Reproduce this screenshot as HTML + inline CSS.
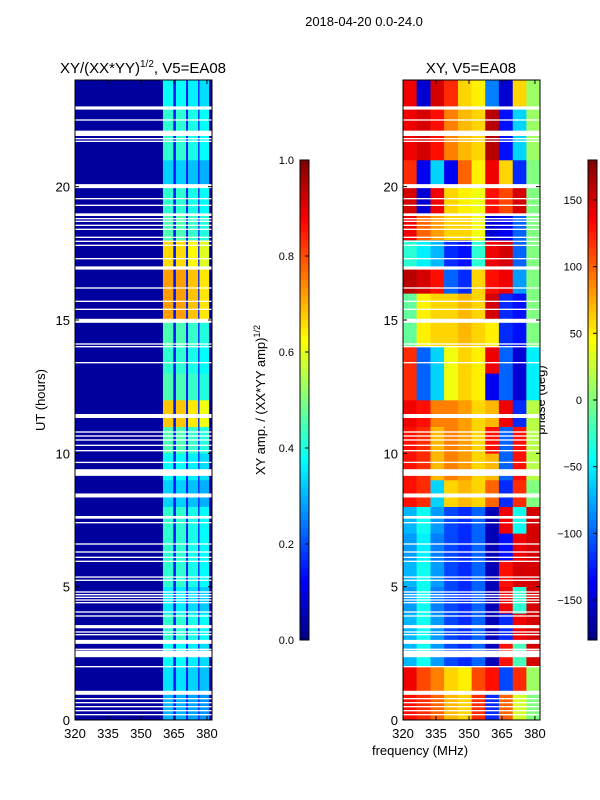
<!DOCTYPE html>
<html><head><meta charset="utf-8">
<style>
body{margin:0;background:#fff;}
svg{display:block;font-family:"Liberation Sans","DejaVu Sans",sans-serif;}
</style></head>
<body>
<svg id="fig" width="600" height="800" viewBox="0 0 600 800">
<rect width="600" height="800" fill="#fff"/>
<text x="364" y="26" font-size="13" text-anchor="middle">2018-04-20 0.0-24.0</text>
<text x="143" y="73" font-size="15" text-anchor="middle">XY/(XX*YY)<tspan font-size="10" dy="-6">1/2</tspan><tspan dy="6">, V5=EA08</tspan></text>
<text x="471" y="73" font-size="15" text-anchor="middle">XY, V5=EA08</text>
<text x="420" y="755" font-size="13" text-anchor="middle">frequency (MHz)</text>
<text x="45" y="400" font-size="13" text-anchor="middle" transform="rotate(-90 45 400)">UT (hours)</text>
<text x="265" y="400" font-size="13" text-anchor="middle" transform="rotate(-90 265 400)">XY amp. / (XX*YY amp)<tspan font-size="9" dy="-5">1/2</tspan></text>
<text x="545" y="400" font-size="13" text-anchor="middle" transform="rotate(-90 545 400)">phase (deg)</text>
<g id="left"></g>
<g id="right"></g>
<g id="axes"></g>
</svg>
<script>
// ---- data ----
const hours = [0,1,2,3,4,5,6,7,8,9,10,11,12,13,14,15,16,17,18,19,20,21,22,23];
const ampBand = [0.30,0.35,0.38,0.42,0.36,0.42,0.42,0.42,0.33,0.38,0.45,0.68,0.45,0.42,0.45,0.72,0.72,0.66,0.45,0.42,0.33,0.42,0.42,0.38];
const ampSegEdges = [320,360,364.7,365.9,370.5,371.4,376,376.6,381,382.3];
const ampSegFactor = [0.12,1.0,0.3,1.0,0.3,0.95,0.3,0.9,0.15];
const ampSegIsBand = [0,1,0,1,0,1,0,1,0];
const ampBackground = 0.03;
const ampDark = 0.15;
const phaseEdges = [320,326.2,332.5,338.7,345,351.2,357.4,363.6,369.9,376.1,382.3];
const phaseRows = [
 [130,120,100,70,60,120,-120,100,30,0],
 [140,110,90,60,50,110,130,-110,120,10],
 [-70,-40,-80,-110,-120,-100,-160,130,-20,150],
 [-70,-40,-80,-110,-120,-100,-160,-120,140,150],
 [-80,-40,-90,-110,-120,-100,-160,140,-30,150],
 [-70,-40,-80,-110,-120,-100,-160,130,150,150],
 [-80,-50,-90,-110,-120,-100,-160,-130,140,150],
 [-70,-40,-80,-110,-120,-100,-160,140,-40,150],
 [130,120,-60,60,70,60,100,-120,120,0],
 [130,120,70,90,80,60,70,-100,130,20],
 [130,120,70,90,80,60,130,-100,130,20],
 [140,130,90,90,80,60,70,140,-120,20],
 [120,-100,-60,40,60,50,-140,-100,-150,-50],
 [120,-100,-60,40,60,50,140,-100,-150,-50],
 [-10,50,60,60,70,60,50,-120,-130,0],
 [-10,50,60,60,70,60,150,-120,-130,0],
 [160,150,130,-100,-120,60,130,140,-80,0],
 [-30,-50,-70,-120,-130,-30,140,150,-100,0],
 [140,100,80,60,60,40,-150,-140,-100,0],
 [150,-150,140,60,50,40,130,110,150,0],
 [120,-140,-60,-140,100,50,140,60,-120,0],
 [140,150,130,90,70,60,160,-130,-60,10],
 [140,150,130,90,70,60,160,-130,-60,10],
 [140,-150,150,120,60,50,-90,-150,60,10]
];
const gapCenters = [0.2,0.35,0.5,0.65,0.8,1.02,2.0,2.48,2.65,2.93,3.2,3.3,3.5,3.9,4.05,4.4,4.5,4.6,4.7,4.8,5.24,5.36,5.95,6.1,6.3,6.6,7.4,7.6,8.42,9.28,9.66,10.1,10.3,10.5,10.65,10.8,11.4,13.4,14.0,14.1,14.97,15.4,15.7,16.2,16.95,17.3,17.8,17.95,18.1,18.4,18.55,18.7,18.8,18.95,19.3,19.55,20.02,21.7,21.8,22.0,22.5,22.95];
const gapWidths = [0.05,0.05,0.05,0.05,0.05,0.15,0.05,0.25,0.05,0.15,0.05,0.05,0.12,0.05,0.05,0.05,0.05,0.05,0.05,0.05,0.05,0.05,0.05,0.05,0.05,0.05,0.05,0.1,0.15,0.25,0.05,0.05,0.05,0.05,0.05,0.05,0.15,0.05,0.05,0.05,0.15,0.05,0.05,0.05,0.12,0.05,0.05,0.05,0.05,0.05,0.05,0.05,0.05,0.1,0.05,0.05,0.15,0.05,0.05,0.2,0.05,0.12];
const xTicks = [320,335,350,365,380];
const yTicks = [0,5,10,15,20];
const ampTicks = [0.0,0.2,0.4,0.6,0.8,1.0];
const phaseTicks = [-150,-100,-50,0,50,100,150];

// ---- scales ----
const NS='http://www.w3.org/2000/svg';
const panels = {left:{x0:75,x1:212},right:{x0:403,x1:540}};
const Y0=720,Y1=80;
function xs(p,f){return panels[p].x0+(f-320)/(382.3-320)*(panels[p].x1-panels[p].x0);}
function ys(h){return Y0+(h/24)*(Y1-Y0);}
function jet(v){v=Math.max(0,Math.min(1,v));
 const r=Math.max(0,Math.min(1,1.5-Math.abs(4*v-3)));
 const g=Math.max(0,Math.min(1,1.5-Math.abs(4*v-2)));
 const b=Math.max(0,Math.min(1,1.5-Math.abs(4*v-1)));
 return 'rgb('+Math.round(r*255)+','+Math.round(g*255)+','+Math.round(b*255)+')';}
function mk(tag,attrs,parent){const e=document.createElementNS(NS,tag);for(const k in attrs)e.setAttribute(k,attrs[k]);parent.appendChild(e);return e;}

const L=document.getElementById('left'),R=document.getElementById('right'),A=document.getElementById('axes');
hours.forEach((h,i)=>{
 const yT=ys(h+1),yB=ys(h);
 for(let s=0;s<ampSegIsBand.length;s++){
  let v = ampSegIsBand[s]? ampBand[i]*ampSegFactor[s] : (s===0||s===ampSegIsBand.length-1? ampBackground: ampDark);
  const x=xs('left',ampSegEdges[s]),w=xs('left',ampSegEdges[s+1])-x;
  const r=mk('rect',{x:x,y:yT,width:w+0.3,height:yB-yT+0.3,fill:jet(v)},L);
  
  
 }
 for(let c=0;c<phaseRows[i].length;c++){
  const v=(phaseRows[i][c]+180)/360;
  const x=xs('right',phaseEdges[c]),w=xs('right',phaseEdges[c+1])-x;
  const r=mk('rect',{x:x,y:yT,width:w+0.3,height:yB-yT+0.3,fill:jet(v)},R);
  
  
 }
});
['left','right'].forEach(p=>{
 const G=p==='left'?L:R;
 gapCenters.forEach((c,i)=>{
  const yT=ys(c+gapWidths[i]/2),yB=ys(c-gapWidths[i]/2);
  const r=mk('rect',{x:panels[p].x0,y:yT,width:panels[p].x1-panels[p].x0,height:Math.max(1.2,yB-yT),fill:'#fff'},G);
  
  
 });
 const f=mk('rect',{x:panels[p].x0,y:Y1,width:panels[p].x1-panels[p].x0,height:Y0-Y1,fill:'none',stroke:'#000','stroke-width':1},A);
 
 
 xTicks.forEach(t=>{const x=xs(p,t);
  mk('line',{x1:x,y1:Y0,x2:x,y2:Y0-4,stroke:'#000'},A);
  mk('line',{x1:x,y1:Y1,x2:x,y2:Y1+4,stroke:'#000'},A);
  const tx=mk('text',{x:x,y:Y0+18,'font-size':13,'text-anchor':'middle'},A);tx.textContent=t;
  
  
 });
 yTicks.forEach(t=>{const y=ys(t);
  mk('line',{x1:panels[p].x0,y1:y,x2:panels[p].x0+4,y2:y,stroke:'#000'},A);
  mk('line',{x1:panels[p].x1,y1:y,x2:panels[p].x1-4,y2:y,stroke:'#000'},A);
  const tx=mk('text',{x:panels[p].x0-5,y:y+5,'font-size':13,'text-anchor':'end'},A);tx.textContent=t;
  
  
 });
});
function colorbar(x,ticks,lo,hi,fmt,name){
 const top=160,bot=640,n=120;
 for(let i=0;i<n;i++){
  const r=mk('rect',{x:x,y:bot-(i+1)*(bot-top)/n,width:9,height:(bot-top)/n+0.5,fill:jet((i+0.5)/n)},A);
  
  
 }
 const f=mk('rect',{x:x,y:top,width:9,height:bot-top,fill:'none',stroke:'#000'},A);
 
 
 ticks.forEach(t=>{const y=bot-(t-lo)/(hi-lo)*(bot-top);
  mk('line',{x1:x+5,y1:y,x2:x+9,y2:y,stroke:'#000'},A);
  const tx=mk('text',{x:x-6,y:y+4,'font-size':11,'text-anchor':'end'},A);tx.textContent=fmt(t);
  
  
 });
}
colorbar(300,ampTicks,0,1,t=>t.toFixed(1),'amp-colorbar');
colorbar(588,phaseTicks,-180,180,t=>t<0?'\u2212'+(-t):String(t),'phase-colorbar');
</script>
</body></html>
